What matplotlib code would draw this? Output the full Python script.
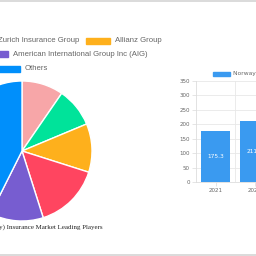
import matplotlib
matplotlib.use("Agg")
import matplotlib.pyplot as plt
from matplotlib.patches import Rectangle

# pie data (clockwise from 12 o'clock)
players = ['Gjensidige Forsikring', 'Zurich Insurance Group', 'Allianz Group',
           'If P&C Insurance', 'American International Group Inc (AIG)', 'Others']
shares = [9.6, 9.1, 11.2, 15.2, 12.3, 42.6]
pie_colors = ['#f7a6a8', '#00e39a', '#feb01c', '#ff4560', '#775dd0', '#008ffb']

# bar data
years = ['2021', '2022', '2023', '2024']
market = [175.3, 211.4, 0, 0]
bar_color = '#3a9af0'

W = H = 256
fig = plt.figure(figsize=(2.56, 2.56), dpi=100)
fig.patch.set_facecolor('white')

def px(x, y):
    return x / W, 1 - y / H

# page borders
fig.add_artist(plt.Line2D([0, 1], [1 - 0.5 / H, 1 - 0.5 / H], color='#d4d4d4', lw=1.2))
fig.add_artist(plt.Line2D([0, 1], [0.6 / H, 0.6 / H], color='#d4d4d4', lw=1.2))

# pie
cx, cy, r = 22, 151, 70
ax1 = fig.add_axes([(cx - r) / W, (H - cy - r) / H, 2 * r / W, 2 * r / H])
ax1.pie(shares, colors=pie_colors, startangle=90, counterclock=False, radius=1,
        wedgeprops=dict(edgecolor='white', linewidth=1.0))
ax1.set_xlim(-1, 1)
ax1.set_ylim(-1, 1)
ax1.axis('off')

# pie legend, drawn by hand (rows partly off the canvas)
legend_rows = [
    [(0, -120), (1, -31), (2, 86)],
    [(3, -120), (4, -16)],
    [(5, -4)],
]
row_y = [41, 54, 69]
for row, yy in zip(legend_rows, row_y):
    for idx, x0 in row:
        fig.add_artist(Rectangle(px(x0, yy + 3), 24 / W, 6 / H, color=pie_colors[idx],
                                 transform=fig.transFigure))
        fig.text(*px(x0 + 29, yy), players[idx], fontsize=5.6, color='#666666',
                 va='center', ha='left', family='Liberation Sans')

fig.text(*px(103, 227), 'Norway P&C (Property & Casualty) Insurance Market Leading Players',
         fontsize=5.0, color='#222222', ha='right', va='center', family='Liberation Serif')

# bar chart
cw = 39
ax2 = fig.add_axes([196 / W, (H - 182) / H, cw * len(years) / W, 101 / H])
bars = ax2.bar(range(len(years)), market, width=0.72, color=bar_color)
for b, v in zip(bars, market):
    if v > 0:
        ax2.text(b.get_x() + b.get_width() / 2, v / 2, f'{v:.1f}', color='white',
                 fontsize=4.2, ha='center', va='center')
ax2.set_xlim(-0.5, len(years) - 0.5)
ax2.set_ylim(0, 350)
ax2.set_yticks(range(0, 351, 50))
ax2.set_xticks([i + 0.5 for i in range(len(years))], minor=True)
ax2.set_xticks(range(len(years)))
ax2.set_xticklabels(years)
ax2.grid(True, which='minor', axis='x', color='#e8e8e8', lw=0.6)
ax2.grid(True, which='major', axis='y', color='#e8e8e8', lw=0.6)
ax2.set_axisbelow(True)
for s in ['top', 'right']:
    ax2.spines[s].set_visible(False)
for s in ['left', 'bottom']:
    ax2.spines[s].set_color('#dddddd')
    ax2.spines[s].set_linewidth(0.6)
ax2.tick_params(axis='both', labelsize=4, colors='#e0e0e0', labelcolor='#666666',
                length=3, width=0.6, pad=1.5)
ax2.tick_params(axis='x', which='minor', length=0)

fig.add_artist(Rectangle(px(213, 76), 17 / W, 4.5 / H, color=bar_color,
                         transform=fig.transFigure))
fig.text(*px(233, 74), 'Norway Casualty Insurance Market', fontsize=4.3, color='#666666',
         va='center', ha='left')

fig.savefig('out.png', dpi=100)
